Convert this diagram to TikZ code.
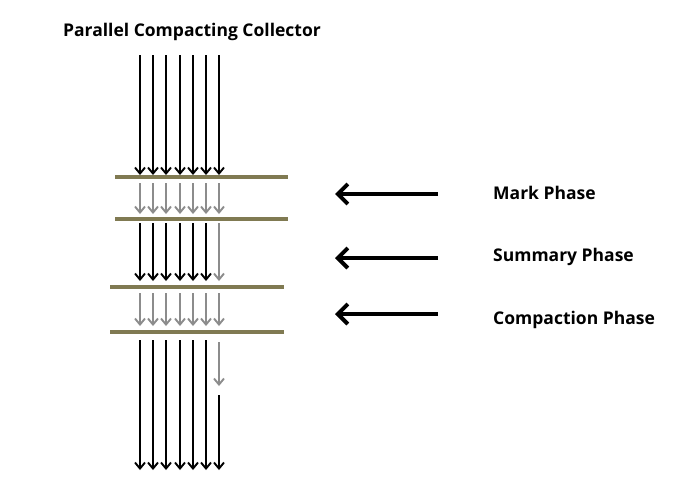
\documentclass[tikz,border=0pt]{standalone}
\usepackage{fontspec}
\setmainfont{Open Sans}
\usetikzlibrary{arrows.meta}
\definecolor{barolive}{RGB}{128,122,82}
\tikzset{
  obj_live/.style = {-{Straight Barb[length=6pt,width=10pt]}, line width=1.9pt, black},
  obj_grey/.style = {-{Straight Barb[length=6pt,width=10pt]}, line width=1.9pt, black!45},
  gen_bar/.style = {line width=3.6pt, draw=barolive},
  phase_arr/.style = {-{Straight Barb[length=10pt,width=20pt]}, line width=4pt, black},
  phase_lbl/.style = {anchor=west, inner sep=0pt,
    font=\bfseries\fontsize{17.5}{21}\selectfont}}

\begin{document}
\begin{tikzpicture}[x=1pt,y=-1pt]
\useasboundingbox (0,0) rectangle (683,482);
\node [inner sep=0pt, font=\bfseries\fontsize{17.5}{21}\selectfont] (title) at (192,32)
  {Parallel Compacting Collector};

% generation bars
\foreach \y/\xa/\xb [count=\i] in {177/115/288, 219/115/288, 287/110/284, 332/110/284}
  \draw [gen_bar] (\xa,\y) coordinate (bar\i_w) -- (\xb,\y) coordinate (bar\i_e);

% object references
\foreach \x [count=\i] in {140,153,166,180,193,206,219} {
  \draw [obj_live] (\x,55) -- (\x,175);
  \draw [obj_grey] (\x,183) -- (\x,214);
  \draw [obj_grey] (\x,293) -- (\x,326);
  \ifnum\i<7
    \draw [obj_live] (\x,223) -- (\x,281);
    \draw [obj_live] (\x,340) -- (\x,470);
  \else
    \draw [obj_grey] (\x,223) -- (\x,281);
    \draw [obj_grey] (\x,342) -- (\x,386);
    \draw [obj_live] (\x,395) -- (\x,470);
  \fi
}

% phases
\node [phase_lbl] (mark) at (493,193) {Mark Phase};
\node [phase_lbl] (summary) at (493,257) {Summary Phase};
\node [phase_lbl] (compact) at (493,320) {Compaction Phase};
\coordinate (mark_t) at (335,194);
\coordinate (summary_t) at (335,258);
\coordinate (compact_t) at (335,314);
\draw [phase_arr] (mark.west) ++(-55,1) -- (mark_t);
\draw [phase_arr] (summary.west) ++(-55,1) -- (summary_t);
\draw [phase_arr] (compact.west) ++(-55,-6) -- (compact_t);
\end{tikzpicture}
\end{document}
